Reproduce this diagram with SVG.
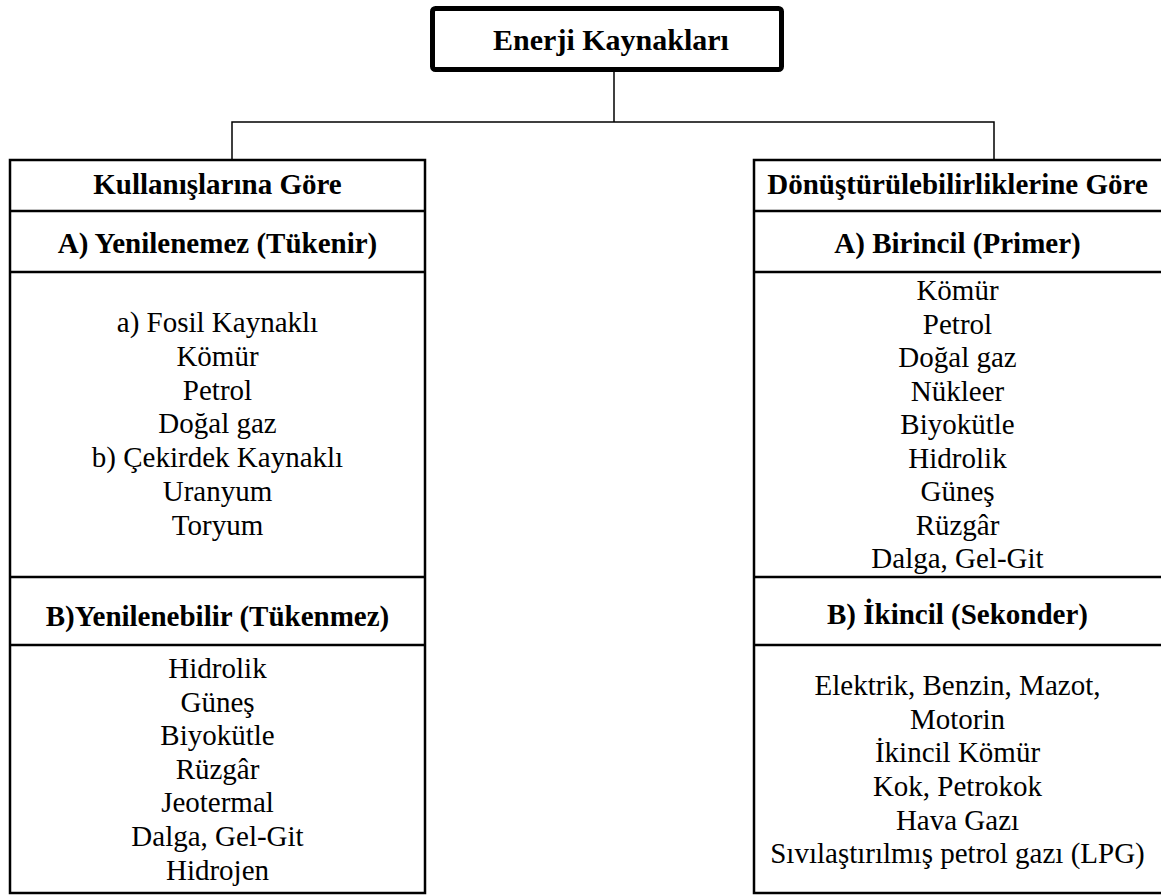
<svg xmlns="http://www.w3.org/2000/svg" width="1161" height="896" viewBox="0 0 1161 896">
<style>
  .t { font-family: "Liberation Serif", "Times New Roman", serif; font-size: 29px; fill: #000; text-anchor: middle; }
  .b { font-weight: bold; }
  .box { fill: #fff; stroke: #000; stroke-width: 2.5; }
  .sep { stroke: #000; stroke-width: 2.5; fill: none; }
  .conn { stroke: #000; stroke-width: 1.5; fill: none; }
</style>
<rect width="1161" height="896" fill="#fff"/>
<g id="connectors">
  <line class="conn" x1="614" y1="71" x2="614" y2="122"/>
  <polyline class="conn" points="232,160 232,122 994,122 994,160"/>
</g>
<g id="title">
  <rect x="432.5" y="8.5" width="349" height="61" rx="3" fill="#fff" stroke="#000" stroke-width="5"/>
  <text class="t b" x="611" y="50" style="font-size:30px">Enerji Kaynakları</text>
</g>
<g id="left">
  <rect class="box" x="10" y="160" width="415" height="733"/>
  <line class="sep" x1="10" y1="211" x2="425" y2="211"/>
  <line class="sep" x1="10" y1="272" x2="425" y2="272"/>
  <line class="sep" x1="10" y1="577" x2="425" y2="577"/>
  <line class="sep" x1="10" y1="645" x2="425" y2="645"/>
  <text class="t b" x="217.5" y="194">Kullanışlarına Göre</text>
  <text class="t b" x="217.5" y="253">A) Yenilenemez (Tükenir)</text>
  <g id="left-nonrenewable">
    <text class="t" x="217.5" y="332">a) Fosil Kaynaklı</text>
    <text class="t" x="217.5" y="366">Kömür</text>
    <text class="t" x="217.5" y="399.5">Petrol</text>
    <text class="t" x="217.5" y="433">Doğal gaz</text>
    <text class="t" x="217.5" y="467">b) Çekirdek Kaynaklı</text>
    <text class="t" x="217.5" y="501">Uranyum</text>
    <text class="t" x="217.5" y="535">Toryum</text>
  </g>
  <text class="t b" x="217.5" y="626">B)Yenilenebilir (Tükenmez)</text>
  <g id="left-renewable">
    <text class="t" x="217.5" y="678">Hidrolik</text>
    <text class="t" x="217.5" y="711.5">Güneş</text>
    <text class="t" x="217.5" y="745">Biyokütle</text>
    <text class="t" x="217.5" y="778.5">Rüzgâr</text>
    <text class="t" x="217.5" y="812">Jeotermal</text>
    <text class="t" x="217.5" y="846">Dalga, Gel-Git</text>
    <text class="t" x="217.5" y="879.5">Hidrojen</text>
  </g>
</g>
<g id="right">
  <rect class="box" x="754" y="160" width="412" height="733"/>
  <line class="sep" x1="754" y1="211" x2="1161" y2="211"/>
  <line class="sep" x1="754" y1="272" x2="1161" y2="272"/>
  <line class="sep" x1="754" y1="577" x2="1161" y2="577"/>
  <line class="sep" x1="754" y1="645" x2="1161" y2="645"/>
  <text class="t b" x="957.5" y="194">Dönüştürülebilirliklerine Göre</text>
  <text class="t b" x="957.5" y="253">A) Birincil (Primer)</text>
  <g id="right-primary">
    <text class="t" x="957.5" y="300">Kömür</text>
    <text class="t" x="957.5" y="333.5">Petrol</text>
    <text class="t" x="957.5" y="367">Doğal gaz</text>
    <text class="t" x="957.5" y="400.5">Nükleer</text>
    <text class="t" x="957.5" y="434">Biyokütle</text>
    <text class="t" x="957.5" y="467.5">Hidrolik</text>
    <text class="t" x="957.5" y="501">Güneş</text>
    <text class="t" x="957.5" y="534.5">Rüzgâr</text>
    <text class="t" x="957.5" y="568">Dalga, Gel-Git</text>
  </g>
  <text class="t b" x="957.5" y="624">B) İkincil (Sekonder)</text>
  <g id="right-secondary">
    <text class="t" x="957.5" y="695">Elektrik, Benzin, Mazot,</text>
    <text class="t" x="957.5" y="728.5">Motorin</text>
    <text class="t" x="957.5" y="762">İkincil Kömür</text>
    <text class="t" x="957.5" y="796">Kok, Petrokok</text>
    <text class="t" x="957.5" y="829.5">Hava Gazı</text>
    <text class="t" x="957.5" y="863">Sıvılaştırılmış petrol gazı (LPG)</text>
  </g>
</g>
</svg>
